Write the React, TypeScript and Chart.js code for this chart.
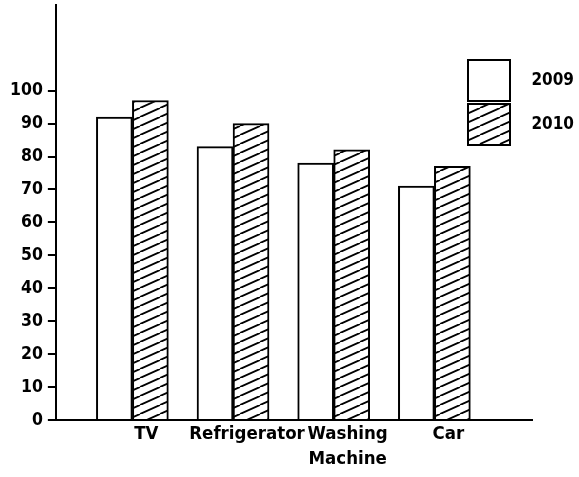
import React, { useEffect, useRef } from 'react';
import { Chart, registerables } from 'chart.js';

Chart.register(...registerables);

// ---- data ----
const categories = ['TV', 'Refrigerator', 'Washing Machine', 'Car'];
const seriesNames = ['2009', '2010'];
const series2009 = [92, 83, 78, 71];
const series2010 = [97, 90, 82, 77];
const yTickValues = [0, 10, 20, 30, 40, 50, 60, 70, 80, 90, 100];

const FONT = "'DejaVu Sans Condensed', 'DejaVu Sans', sans-serif";

function makeHatch(): CanvasPattern | string {
  const c = document.createElement('canvas');
  c.width = 20;
  c.height = 9;
  const g = c.getContext('2d');
  if (!g) return '#888';
  g.fillStyle = '#ffffff';
  g.fillRect(0, 0, 20, 9);
  g.strokeStyle = '#000000';
  g.lineWidth = 1.9;
  g.beginPath();
  for (const dx of [-20, 0, 20]) {
    g.moveTo(dx, 9);
    g.lineTo(dx + 20, 0);
  }
  g.stroke();
  return g.createPattern(c, 'repeat') || '#888';
}

// Places the chartArea legend at the upper right, inside the plot
const legendPlacer = {
  id: 'legendPlacer',
  afterLayout(chart: any) {
    const lg = chart.legend;
    if (!lg) return;
    const w = chart.width;
    lg.left = w - 114;
    lg.right = w - 5;
    lg.top = 57;
    lg.bottom = 200;
    lg.width = lg.right - lg.left;
    lg.height = lg.bottom - lg.top;
  },
};

export default function App() {
  const ref = useRef<HTMLCanvasElement | null>(null);

  useEffect(() => {
    if (!ref.current) return;
    const hatch = makeHatch();
    const chart = new Chart(ref.current, {
      type: 'bar',
      data: {
        datasets: [
          {
            label: seriesNames[0],
            data: series2009.map((v, i) => ({ x: i, y: v })),
            backgroundColor: '#ffffff',
            borderColor: '#000000',
            borderWidth: 2,
            barThickness: 36,
          },
          {
            label: seriesNames[1],
            data: series2010.map((v, i) => ({ x: i, y: v })),
            backgroundColor: hatch as any,
            borderColor: '#000000',
            borderWidth: 2,
            barThickness: 36,
          },
        ],
      },
      plugins: [legendPlacer],
      options: {
        animation: false,
        responsive: true,
        maintainAspectRatio: false,
        events: [],
        layout: { padding: { left: 5, right: 47, top: 5, bottom: 3 } },
        plugins: {
          tooltip: { enabled: false },
          title: { display: false },
          legend: {
            display: true,
            position: 'chartArea' as any,
            align: 'start',
            labels: {
              boxWidth: 42,
              boxHeight: 41,
              padding: 3,
              color: '#000',
              textAlign: 'right',
              font: { family: FONT, size: 17, weight: 'bold' },
            },
          },
        },
        scales: {
          x: {
            type: 'linear',
            offset: false,
            min: -0.76,
            max: 3.97,
            afterBuildTicks: (s: any) => {
              s.ticks = categories.map((_, i) => ({ value: i }));
            },
            ticks: {
              callback: (v: any) => {
                const c = categories[Math.round(Number(v))];
                return c ? c.split(' ') : '';
              },
              font: { family: FONT, size: 18.5, weight: 'bold', lineHeight: 1.35 },
              color: '#000',
              padding: 2,
              labelOffset: 14,
              maxRotation: 0,
              autoSkip: false,
            },
            grid: { display: false, drawTicks: false, tickLength: 0, offset: false },
            border: { display: true, color: '#000', width: 2 },
          },
          y: {
            type: 'linear',
            min: 0,
            max: 126,
            afterBuildTicks: (s: any) => {
              s.ticks = yTickValues.map((value) => ({ value }));
            },
            afterFit: (s: any) => {
              s.paddingTop = 0;
            },
            ticks: {
              font: { family: FONT, size: 17.5, weight: 'bold' },
              color: '#000',
              padding: 5,
              autoSkip: false,
            },
            grid: {
              display: true,
              drawOnChartArea: false,
              drawTicks: true,
              tickLength: 8,
              color: '#000',
              lineWidth: 2,
            },
            border: { display: true, color: '#000', width: 2 },
          },
        },
      },
    });
    return () => chart.destroy();
  }, []);

  return (
    <div style={{ position: 'fixed', left: 0, top: 0, width: 579, height: 477, background: '#fff' }}>
      <canvas ref={ref} />
    </div>
  );
}
